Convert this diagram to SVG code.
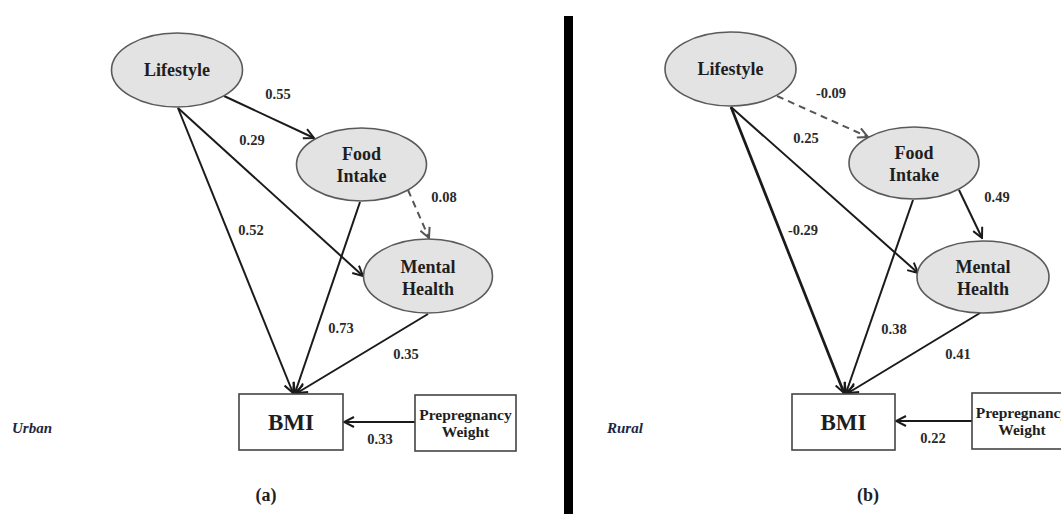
<svg xmlns="http://www.w3.org/2000/svg" width="1061" height="514" viewBox="0 0 1061 514">
<style>
.ell{fill:#e3e3e3;stroke:#5a5a5a;stroke-width:1.6}
.box{fill:#fff;stroke:#444;stroke-width:1.6}
.nt{font-family:"Liberation Serif",serif;font-weight:bold;font-size:18px;fill:#1e1e1e;text-anchor:middle}
.bmi{font-family:"Liberation Serif",serif;font-weight:bold;font-size:23px;fill:#1e1e1e;text-anchor:middle}
.pw{font-family:"Liberation Serif",serif;font-weight:bold;font-size:15.5px;fill:#1e1e1e;text-anchor:middle}
.lb{font-family:"Liberation Serif",serif;font-weight:bold;font-size:14.5px;fill:#2a2a2a;text-anchor:middle}
.grp{font-family:"Liberation Serif",serif;font-weight:bold;font-style:italic;font-size:15px;fill:#1c2642}
.cap{font-family:"Liberation Serif",serif;font-weight:bold;font-size:18px;fill:#1e1e1e;text-anchor:middle}
.ln{stroke:#1a1a1a;stroke-width:2;fill:none;marker-end:url(#arr)}
.dsh{stroke:#555;stroke-width:2;fill:none;stroke-dasharray:7,5;marker-end:url(#arrg)}
</style>
<defs>
<marker id="arr" viewBox="0 0 12 12" refX="11" refY="6" markerWidth="12" markerHeight="12" markerUnits="userSpaceOnUse" orient="auto">
<path d="M1,1 L11,6 L1,11" fill="none" stroke="#1a1a1a" stroke-width="2"/>
</marker>
<marker id="arrg" viewBox="0 0 12 12" refX="11" refY="6" markerWidth="12" markerHeight="12" markerUnits="userSpaceOnUse" orient="auto">
<path d="M1,1 L11,6 L1,11" fill="none" stroke="#555" stroke-width="2"/>
</marker>
</defs>
<rect width="1061" height="514" fill="#fff"/>
<rect id="divider" x="564" y="16" width="9" height="498" fill="#000"/>

<g id="connectors">
<!-- panel a -->
<line class="ln" x1="224" y1="96" x2="314" y2="138"/>
<line class="ln" x1="178" y1="108" x2="293" y2="393"/>
<line class="ln" x1="178" y1="108" x2="363" y2="276"/>
<line class="ln" x1="360" y1="202" x2="295" y2="393"/>
<line class="dsh" x1="408" y1="190" x2="429" y2="238"/>
<line class="ln" x1="428" y1="314" x2="297" y2="393"/>
<line class="ln" x1="415" y1="422" x2="344" y2="422"/>
<!-- panel b -->
<line class="dsh" x1="777" y1="96" x2="868" y2="137"/>
<line class="ln" x1="731" y1="107" x2="844" y2="393" style="stroke-width:2.7"/>
<line class="ln" x1="731" y1="107" x2="918" y2="273"/>
<line class="ln" x1="913" y1="200" x2="846" y2="393"/>
<line class="ln" x1="959" y1="190" x2="982" y2="238"/>
<line class="ln" x1="980" y1="313" x2="848" y2="393"/>
<line class="ln" x1="972" y1="421" x2="896" y2="421"/>
</g>

<g id="labels">
<text class="lb" x="278" y="99">0.55</text>
<text class="lb" x="252" y="145">0.29</text>
<text class="lb" x="251" y="235">0.52</text>
<text class="lb" x="444" y="202">0.08</text>
<text class="lb" x="341" y="333">0.73</text>
<text class="lb" x="406" y="359">0.35</text>
<text class="lb" x="380" y="444">0.33</text>
<text class="lb" x="831" y="98">-0.09</text>
<text class="lb" x="806" y="143">0.25</text>
<text class="lb" x="803" y="235">-0.29</text>
<text class="lb" x="997" y="202">0.49</text>
<text class="lb" x="894" y="334">0.38</text>
<text class="lb" x="958" y="359">0.41</text>
<text class="lb" x="933" y="443">0.22</text>
</g>

<g id="a-lifestyle"><ellipse class="ell" cx="177" cy="70" rx="65.5" ry="37"/><text class="nt" x="177" y="76">Lifestyle</text></g>
<g id="a-food"><ellipse class="ell" cx="361.5" cy="164.5" rx="65" ry="36.5"/><text class="nt" x="361.5" y="160">Food</text><text class="nt" x="361.5" y="182">Intake</text></g>
<g id="a-mental"><ellipse class="ell" cx="428" cy="276" rx="64.5" ry="37"/><text class="nt" x="428" y="273">Mental</text><text class="nt" x="428" y="295">Health</text></g>
<g id="a-bmi"><rect class="box" x="239" y="394" width="104" height="56"/><text class="bmi" x="291" y="430">BMI</text></g>
<g id="a-pw"><rect class="box" x="415" y="395" width="101" height="56"/><text class="pw" x="465.5" y="420">Prepregnancy</text><text class="pw" x="465.5" y="437">Weight</text></g>
<text class="grp" x="12" y="433">Urban</text>
<text class="cap" x="266" y="501">(a)</text>

<g id="b-lifestyle"><ellipse class="ell" cx="730.5" cy="69" rx="65.5" ry="37"/><text class="nt" x="730.5" y="75">Lifestyle</text></g>
<g id="b-food"><ellipse class="ell" cx="914" cy="163" rx="65" ry="36"/><text class="nt" x="914" y="159">Food</text><text class="nt" x="914" y="181">Intake</text></g>
<g id="b-mental"><ellipse class="ell" cx="983" cy="277" rx="66" ry="36"/><text class="nt" x="983" y="273">Mental</text><text class="nt" x="983" y="295">Health</text></g>
<g id="b-bmi"><rect class="box" x="792" y="394" width="103" height="56"/><text class="bmi" x="843.5" y="430">BMI</text></g>
<g id="b-pw"><rect class="box" x="972" y="393" width="101" height="56"/><text class="pw" x="1022" y="418">Prepregnancy</text><text class="pw" x="1022" y="435">Weight</text></g>
<text class="grp" x="607" y="433">Rural</text>
<text class="cap" x="868" y="501">(b)</text>
</svg>
